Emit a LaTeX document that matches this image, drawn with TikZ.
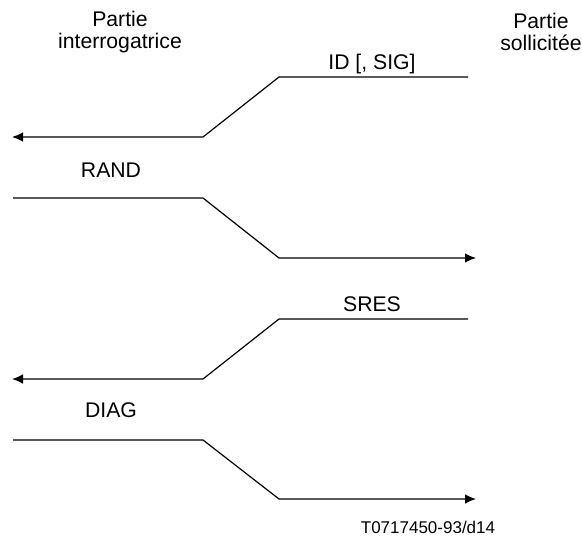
\documentclass[tikz,border=0pt]{standalone}
\usepackage{fontspec}
\setmainfont{Liberation Sans}
\usetikzlibrary{arrows.meta}

\begin{document}
\begin{tikzpicture}[x=0.5pt,y=-0.5pt,
		msg/.style={line width=0.6pt,-{Latex[length=5.5pt,width=4.8pt]}},
		lbl/.style={inner sep=0pt,font=\fontsize{10.6}{10.6}\selectfont,align=center}]
		\useasboundingbox (0,0) rectangle (582,535);
		% parties
		\node[lbl] (interr) at (120,32) {Partie\\interrogatrice};
		\node[lbl] (sollic) at (541,32) {Partie\\sollicit\'ee};
		% ID [, SIG]
		\coordinate (a1) at (468,77);
		\coordinate (a2) at (279,77);
		\coordinate (a3) at (203,137);
		\coordinate (a4) at (12,137);
		\draw[msg] (a1) -- (a2) -- (a3) -- (a4);
		\node[lbl] (id) at (372,64) {ID [, SIG]};
		% RAND
		\coordinate (b1) at (13,198);
		\coordinate (b2) at (203,198);
		\coordinate (b3) at (279,258);
		\coordinate (b4) at (476,258);
		\draw[msg] (b1) -- (b2) -- (b3) -- (b4);
		\node[lbl] (rand) at (111,170) {RAND};
		% SRES
		\coordinate (c1) at (468,319);
		\coordinate (c2) at (279,319);
		\coordinate (c3) at (203,379);
		\coordinate (c4) at (12,379);
		\draw[msg] (c1) -- (c2) -- (c3) -- (c4);
		\node[lbl] (sres) at (372,304) {SRES};
		% DIAG
		\coordinate (d1) at (13,440);
		\coordinate (d2) at (203,440);
		\coordinate (d3) at (279,499);
		\coordinate (d4) at (476,499);
		\draw[msg] (d1) -- (d2) -- (d3) -- (d4);
		\node[lbl] (diag) at (111,410) {DIAG};
		\node[lbl,font=\fontsize{8.5}{9}\selectfont] (ref) at (428,527) {T0717450-93/d14};
	\end{tikzpicture}
\end{document}
